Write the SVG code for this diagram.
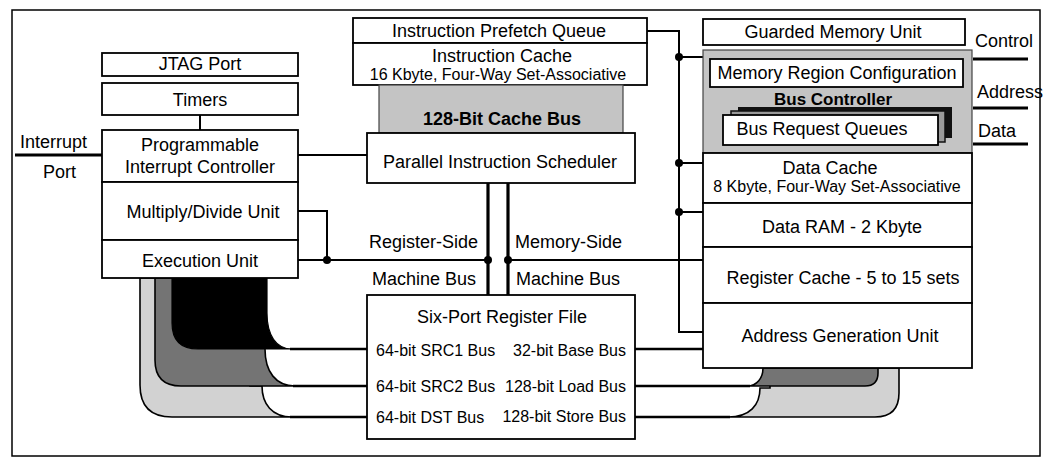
<svg xmlns="http://www.w3.org/2000/svg" width="1047" height="462" viewBox="0 0 1047 462">
<style>
.bx{fill:#fff;stroke:#000;stroke-width:1.8}
.sh{fill:#c4c4c4;stroke:#444;stroke-width:1.2}
.ln{fill:none;stroke:#000;stroke-width:2}
.tk{fill:none;stroke:#000;stroke-width:3.2}
.bus{fill:none;stroke:#000;stroke-width:2.6}
.lt{fill:#d2d2d2;stroke:#000;stroke-width:1.6}
.dk{fill:#747474;stroke:#000;stroke-width:1.6}
.bk{fill:#000;stroke:#000;stroke-width:1.2}
text{font-family:"Liberation Sans",Arial,Helvetica,sans-serif;font-size:18px;fill:#000}
.c{text-anchor:middle}
.e{text-anchor:end}
.s{font-size:16px}
.b{font-weight:bold}
</style>
<defs>
<circle id="dot" r="4" fill="#000"/>
</defs>
<rect x="12" y="10" width="1028" height="446" fill="#fff" stroke="#000" stroke-width="1.5"/>

<g id="connectors">
<path class="lt" d="M140,278 L140,385 Q140,417 172,417 L292,417 C272,417 262,404 262,386 L250,386 L250,278 Z"/>
<path class="dk" d="M155,278 L155,360 Q155,386 181,386 L295,386 C276,386 265,372 265,349 L265,278 Z"/>
<path class="bk" d="M172,278 L172,323 Q172,349 198,349 L292,349 C276,349 267,335 267,313 L267,278 Z"/>
<path class="lt" d="M728,417 C750,417 760,405 760,388 L770,388 L770,368 L899,368 L899,393 Q899,417 875,417 Z"/>
<path class="dk" d="M747,386 C757,386 763,378 763,368 L878,368 L878,373 Q878,386 865,386 Z"/>
<path class="bus" d="M290,349 H367 M293,386 H367 M290,417 H367"/>
<path class="bus" d="M635,349 H703 M635,386 H750 M635,417 H730"/>
<path class="tk" d="M15,155 H102"/>
<path class="ln" d="M200,115 V130"/>
<path class="ln" d="M298,155 H367"/>
<path class="ln" d="M298,211 H327 V260"/>
<path class="ln" d="M298,260 H488"/>
<path class="ln" d="M508,260 H703"/>
<path class="tk" d="M488,183 V295 M508,183 V295"/>
<path class="ln" d="M647,31 H679 V332 H703"/>
<path class="ln" d="M679,57 H703 M679,163 H703 M679,212 H703"/>
<path class="tk" d="M973,59 H1028 M973,108 H1028 M973,144 H1028"/>
<use href="#dot" x="327" y="260"/>
<use href="#dot" x="488" y="260"/>
<use href="#dot" x="508" y="260"/>
<use href="#dot" x="679" y="57"/>
<use href="#dot" x="679" y="163"/>
<use href="#dot" x="679" y="212"/>
<text x="20" y="148">Interrupt</text>
<text x="43" y="178">Port</text>
<text class="e" x="478" y="248">Register-Side</text>
<text class="e" x="476" y="285">Machine Bus</text>
<text x="515" y="248">Memory-Side</text>
<text x="516" y="285">Machine Bus</text>
<text x="975" y="47">Control</text>
<text x="977" y="98">Address</text>
<text x="978" y="137">Data</text>
</g>

<g id="jtag"><rect class="bx" x="102" y="53" width="196" height="23"/><text class="c" x="200" y="69.5">JTAG Port</text></g>
<g id="timers"><rect class="bx" x="102" y="83" width="196" height="32"/><text class="c" x="200" y="106">Timers</text></g>
<g id="pic"><rect class="bx" x="102" y="130" width="196" height="52"/><text class="c" x="200" y="151">Programmable</text><text class="c" x="200" y="173">Interrupt Controller</text></g>
<g id="muldiv"><rect class="bx" x="102" y="182" width="196" height="58"/><text class="c" x="203" y="218">Multiply/Divide Unit</text></g>
<g id="exec"><rect class="bx" x="102" y="240" width="196" height="38"/><text class="c" x="200" y="267">Execution Unit</text></g>

<g id="ipq"><rect class="bx" x="353" y="18" width="294" height="25"/><text class="c" x="499" y="36.5">Instruction Prefetch Queue</text></g>
<g id="icache"><rect class="bx" x="353" y="43" width="294" height="42"/><text class="c" x="502" y="62">Instruction Cache</text><text class="c s" x="498" y="80">16 Kbyte, Four-Way Set-Associative</text></g>
<g id="cachebus"><rect class="sh" x="379" y="85" width="244" height="48"/><text class="c b" x="502" y="125">128-Bit Cache Bus</text></g>
<g id="pis"><rect class="bx" x="367" y="133" width="268" height="50"/><text class="c" x="500" y="168">Parallel Instruction Scheduler</text></g>
<g id="regfile"><rect class="bx" x="367" y="295" width="268" height="144"/>
<text class="c" x="502" y="323">Six-Port Register File</text>
<text class="s" x="376" y="356">64-bit SRC1 Bus</text>
<text class="s e" x="626" y="356">32-bit Base Bus</text>
<text class="s" x="376" y="391.5">64-bit SRC2 Bus</text>
<text class="s e" x="626" y="391.5">128-bit Load Bus</text>
<text class="s" x="376" y="423">64-bit DST Bus</text>
<text class="s e" x="626" y="422">128-bit Store Bus</text>
</g>

<g id="gmu"><rect class="bx" x="703" y="19" width="262" height="26"/><text class="c" x="833" y="38">Guarded Memory Unit</text></g>
<g id="busctrl"><rect class="sh" x="703" y="50" width="269" height="103"/>
<rect class="bx" x="710" y="59" width="253" height="28"/><text class="c" x="837" y="78.5">Memory Region Configuration</text>
<text class="c b" x="833" y="105" style="font-size:17px">Bus Controller</text>
<rect x="738" y="107" width="214" height="31" fill="#111"/>
<rect x="731" y="111" width="214" height="31" fill="#9a9a9a" stroke="#111" stroke-width="1.5"/>
<rect class="bx" x="723" y="115" width="215" height="30" stroke-width="2"/>
<text class="c" x="822" y="135">Bus Request Queues</text>
</g>
<g id="dcache"><rect class="bx" x="703" y="153" width="269" height="50"/><text class="c" x="830" y="174">Data Cache</text><text class="c s" x="837" y="191.5">8 Kbyte, Four-Way Set-Associative</text></g>
<g id="dram"><rect class="bx" x="703" y="203" width="269" height="44"/><text class="c" x="842" y="233">Data RAM - 2 Kbyte</text></g>
<g id="regcache"><rect class="bx" x="703" y="247" width="269" height="56"/><text class="c" x="843" y="283.5">Register Cache - 5 to 15 sets</text></g>
<g id="agu"><rect class="bx" x="703" y="303" width="269" height="65"/><text class="c" x="840" y="341.5">Address Generation Unit</text></g>
</svg>
